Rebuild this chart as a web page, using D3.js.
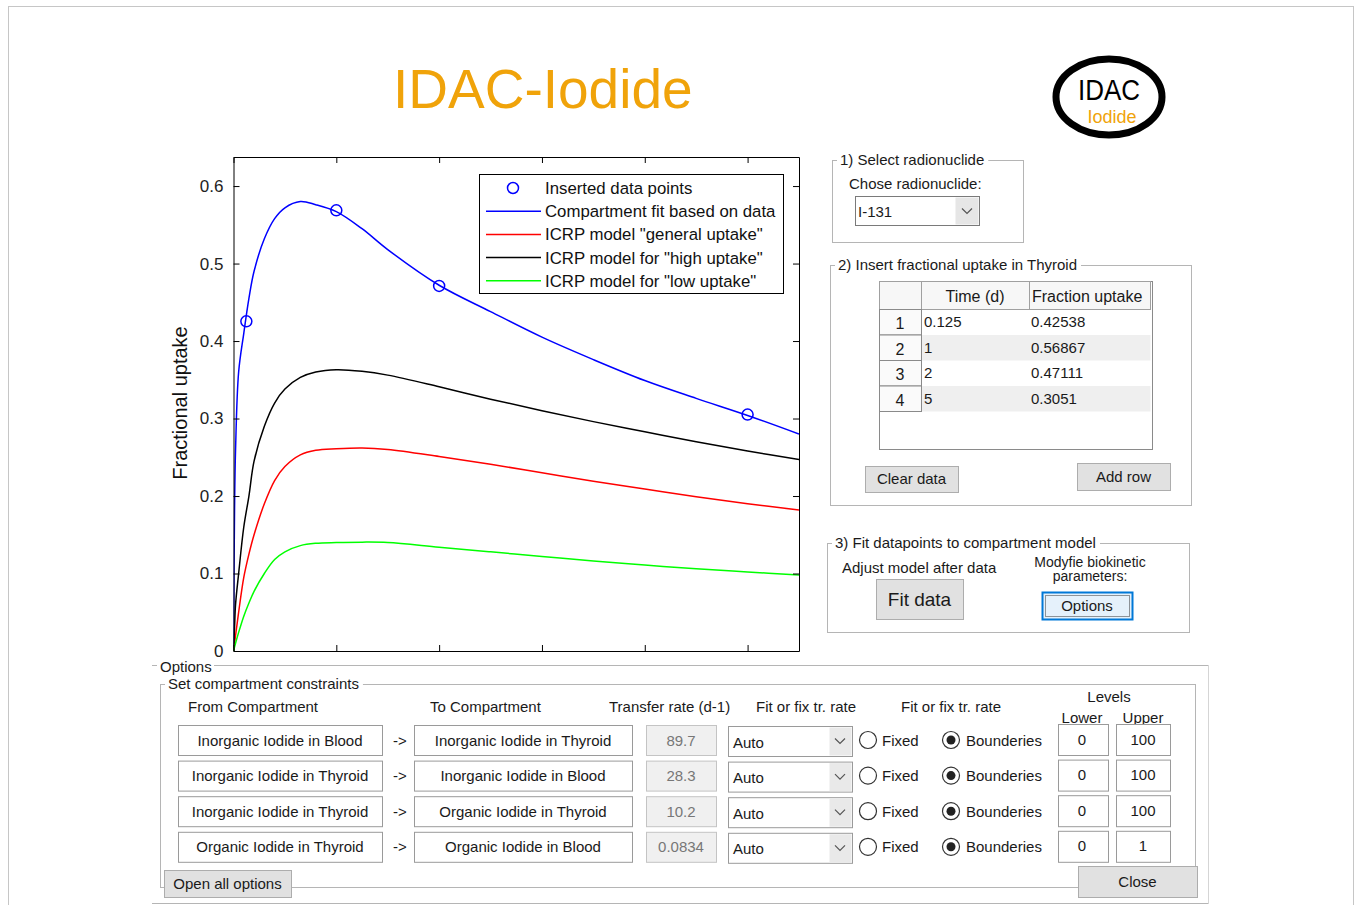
<!DOCTYPE html>
<html>
<head>
<meta charset="utf-8">
<script src="https://cdn.jsdelivr.net/npm/d3@7"></script>
<style>
body { margin: 0; background: #fff; }
svg { display: block; font-family: "Liberation Sans", Arial, sans-serif; }
</style>
</head>
<body>
<script>
let width = 1356
let height = 905

// curves: time (d) and fractional uptake
const times         = [0, 0.01, 0.02, 0.05, 0.1, 0.15, 0.2, 0.3, 0.4, 0.5, 0.65, 0.8, 1, 1.25, 1.5, 2, 2.5, 3, 3.5, 4, 4.5, 5, 5.5]
const fitCurve      = [0, 0.18, 0.26, 0.36, 0.41, 0.455, 0.49, 0.532, 0.558, 0.572, 0.58, 0.576, 0.567, 0.545, 0.518, 0.472, 0.438, 0.405, 0.376, 0.349, 0.326, 0.304, 0.28]
const generalCurve  = [0, 0.01, 0.02, 0.05, 0.095, 0.125, 0.15, 0.19, 0.22, 0.238, 0.253, 0.259, 0.261, 0.262, 0.26, 0.251, 0.241, 0.23, 0.219, 0.209, 0.199, 0.19, 0.182]
const highCurve     = [0, 0.03, 0.06, 0.1, 0.16, 0.2, 0.245, 0.29, 0.32, 0.338, 0.353, 0.36, 0.363, 0.361, 0.356, 0.341, 0.325, 0.31, 0.296, 0.283, 0.27, 0.258, 0.247]
const lowCurve      = [0, 0.005, 0.01, 0.024, 0.045, 0.062, 0.077, 0.1, 0.118, 0.128, 0.136, 0.139, 0.14, 0.1405, 0.14, 0.134, 0.128, 0.122, 0.116, 0.111, 0.106, 0.102, 0.098]

// inserted data points (also shown in the table)
const pointTimes  = [0.125, 1, 2, 5]
const pointUptake = [0.42538, 0.56867, 0.47111, 0.3051]

const yTicks = [0, 0.1, 0.2, 0.3, 0.4, 0.5, 0.6]
const xTicks = [0, 1, 2, 3, 4, 5]

const legendLabels = ['Inserted data points', 'Compartment fit based on data', 'ICRP model "general uptake"', 'ICRP model for "high uptake"', 'ICRP model for "low uptake"']
const legendColors = ['#0000ff', '#0000ff', '#ff0000', '#000000', '#00ff00']

// compartment constraints
const fromComp = ['Inorganic Iodide in Blood', 'Inorganic Iodide in Thyroid', 'Inorganic Iodide in Thyroid', 'Organic Iodide in Thyroid']
const toComp   = ['Inorganic Iodide in Thyroid', 'Inorganic Iodide in Blood', 'Organic Iodide in Thyroid', 'Organic Iodide in Blood']
const rates    = ['89.7', '28.3', '10.2', '0.0834']
const lowerLev = [0, 0, 0, 0]
const upperLev = [100, 100, 100, 1]

const svg = d3.select('body')
    .append('svg')
    .attr('width', width)
    .attr('height', height)

function box(x0, y0, w, h, fill, stroke, sw) {
    return svg.append('rect')
        .attr('x', x0 + 0.5).attr('y', y0 + 0.5)
        .attr('width', w).attr('height', h)
        .attr('fill', fill).attr('stroke', stroke)
        .attr('stroke-width', sw || 1)
}
function label(x0, y0, txt, size, anchor, color) {
    return svg.append('text')
        .attr('x', x0).attr('y', y0)
        .attr('font-size', size || 15)
        .attr('text-anchor', anchor || 'start')
        .attr('fill', color || '#1a1a1a')
        .text(txt)
}
function group(x0, y0, w, h, title) {
    box(x0, y0, w, h, 'none', '#b5b5b5')
    const gap = svg.append('rect').attr('fill', 'white')
    const t = label(x0 + 8, y0 + 5, title, 15)
    const len = t.node().getComputedTextLength()
    gap.attr('x', x0 + 5).attr('y', y0 - 8).attr('width', len + 7).attr('height', 16)
}
function button(x0, y0, w, h, txt, size) {
    box(x0, y0, w, h, '#e1e1e1', '#adadad')
    label(x0 + w / 2, y0 + h / 2 + (size || 15) * 0.36, txt, size || 15, 'middle')
}
function chevron(cx, cy) {
    svg.append('path')
        .attr('d', `M${cx - 5},${cy - 2.5}L${cx},${cy + 2.5}L${cx + 5},${cy - 2.5}`)
        .attr('fill', 'none').attr('stroke', '#555').attr('stroke-width', 1.2)
}

// title and logo
label(393, 108, 'IDAC-Iodide', 55, 'start', '#f0a30a')
svg.append('ellipse')
    .attr('cx', 1109).attr('cy', 97).attr('rx', 53).attr('ry', 38)
    .attr('fill', 'white').attr('stroke', 'black').attr('stroke-width', 7)
label(1109, 100, 'IDAC', 30, 'middle', '#000').attr('textLength', 62).attr('lengthAdjust', 'spacingAndGlyphs')
label(1112, 123, 'Iodide', 18, 'middle', '#f0a30a')

// ---- plot ----
const x = d3.scaleLinear().domain([0, 5.5]).range([233.5, 799])
const y = d3.scaleLinear().domain([0, 0.6375]).range([651, 157])

svg.append('clipPath').attr('id', 'plotclip')
    .append('rect').attr('x', 233.5).attr('y', 157).attr('width', 565.5).attr('height', 494)

const plot = svg.append('g').attr('clip-path', 'url(#plotclip)')
const line = d3.line().curve(d3.curveCatmullRom.alpha(0.5))
    .x(d => x(d[0])).y(d => y(d[1]))

const curves = [
    { vals: fitCurve, color: '#0000ff' },
    { vals: generalCurve, color: '#ff0000' },
    { vals: highCurve, color: '#000000' },
    { vals: lowCurve, color: '#00ff00' }
]
plot.selectAll('.curve')
    .data(curves)
    .enter()
    .append('path')
        .attr('class', 'curve')
        .attr('fill', 'none')
        .attr('stroke', d => d.color)
        .attr('stroke-width', 1.5)
        .attr('d', d => line(times.map((t, i) => [t, d.vals[i]])))

svg.selectAll('.pt')
    .data(pointTimes)
    .enter()
    .append('circle')
        .attr('class', 'pt')
        .attr('cx', d => x(d))
        .attr('cy', (d, i) => y(pointUptake[i]))
        .attr('r', 5.5)
        .attr('fill', 'none')
        .attr('stroke', '#0000ff')
        .attr('stroke-width', 1.5)

function styleAxis(g) {
    g.select('.domain').attr('stroke', '#000')
    g.selectAll('.tick line').attr('stroke', '#000')
    g.selectAll('text').attr('font-size', 17).attr('fill', '#222').attr('font-family', '"Liberation Sans", Arial, sans-serif')
}
svg.append('g').attr('transform', 'translate(233.5,0)')
    .call(d3.axisLeft(y).tickValues(yTicks).tickSizeInner(-6).tickSizeOuter(0).tickPadding(10).tickFormat(d3.format('')))
    .call(styleAxis)
svg.append('g').attr('transform', 'translate(799,0)')
    .call(d3.axisRight(y).tickValues(yTicks).tickSizeInner(-6).tickSizeOuter(0).tickFormat(''))
    .call(styleAxis)
svg.append('g').attr('transform', 'translate(0,157)')
    .call(d3.axisTop(x).tickValues(xTicks).tickSizeInner(-6).tickSizeOuter(0).tickFormat(''))
    .call(styleAxis)
svg.append('g').attr('transform', 'translate(0,651)')
    .call(d3.axisBottom(x).tickValues(xTicks).tickSizeInner(-6).tickSizeOuter(0).tickFormat(''))
    .call(styleAxis)

svg.append('text')
    .attr('transform', 'translate(187,403) rotate(-90)')
    .attr('text-anchor', 'middle')
    .attr('font-size', 20)
    .attr('fill', '#111')
    .text('Fractional uptake')

// legend
box(479, 174, 304, 119, 'white', '#000')
legendLabels.forEach(function(txt, i) {
    const ly = 188 + i * 23.2
    if (i === 0) {
        svg.append('circle').attr('cx', 513).attr('cy', ly).attr('r', 5.5)
            .attr('fill', 'none').attr('stroke', legendColors[i]).attr('stroke-width', 1.5)
    } else {
        svg.append('line').attr('x1', 486).attr('x2', 541).attr('y1', ly).attr('y2', ly)
            .attr('stroke', legendColors[i]).attr('stroke-width', 1.5)
    }
    label(545, ly + 6, txt, 16.8, 'start', '#111')
})

// ---- right panels ----
group(832, 160, 191, 82, '1) Select radionuclide')
label(849, 189, 'Chose radionuclide:')
box(855, 196, 124, 29, 'white', '#7a7a7a')
box(955, 197, 23, 27, '#e6e6e6', 'none')
chevron(967, 211)
label(858, 217, 'I-131')

group(830, 265, 361, 240, '2) Insert fractional uptake in Thyroid')
box(879, 281, 273, 168, 'white', '#8a8a8a')
// header row
box(879, 281, 42, 28, '#f7f7f7', '#a0a0a0')
box(921, 281, 108, 28, '#f7f7f7', '#a0a0a0')
box(1029, 281, 121, 28, '#f7f7f7', '#a0a0a0')
label(975, 302, 'Time (d)', 16, 'middle')
label(1032, 302, 'Fraction uptake', 16, 'start')
pointTimes.forEach(function(t, i) {
    const ry = 309 + i * 25.5
    if (i % 2 === 1) box(921, ry, 229, 25.5, '#efefef', 'none')
    box(879, ry, 42, 25.5, '#fafafa', '#8a8a8a')
    label(900, ry + 20, String(i + 1), 16, 'middle')
    label(924, ry + 18, String(t), 15)
    label(1031, ry + 18, String(pointUptake[i]), 15)
})
button(865, 466, 93, 26, 'Clear data')
button(1077, 463, 93, 27, 'Add row')

group(827, 543, 362, 89, '3) Fit datapoints to compartment model')
label(842, 573, 'Adjust model after data')
button(876, 579, 87, 40, 'Fit data', 19)
label(1090, 567, 'Modyfie biokinetic', 14, 'middle')
label(1090, 581, 'parameters:', 14, 'middle')
box(1042, 592, 90, 27, '#e5f1fb', '#0078d7', 2)
box(1045, 595, 84, 21, 'none', '#333', 1).attr('stroke-dasharray', '1,1')
label(1087, 611, 'Options', 15, 'middle')

// ---- options panel (covers bottom of the plot) ----
svg.append('rect').attr('x', 0).attr('y', 657).attr('width', width).attr('height', height - 657).attr('fill', 'white')

svg.append('line').attr('x1', 152).attr('x2', 1208).attr('y1', 665.5).attr('y2', 665.5).attr('stroke', '#b5b5b5')
svg.append('line').attr('x1', 152).attr('x2', 1208).attr('y1', 903.5).attr('y2', 903.5).attr('stroke', '#b5b5b5')
svg.append('line').attr('x1', 1208.5).attr('x2', 1208.5).attr('y1', 665).attr('y2', 904).attr('stroke', '#d5d5d5')
svg.append('rect').attr('x', 157).attr('y', 658).attr('width', 57).attr('height', 16).attr('fill', 'white')
label(160, 672, 'Options')

group(160, 684, 1035, 203, 'Set compartment constraints')

label(188, 712, 'From Compartment')
label(430, 712, 'To Compartment')
label(609, 712, 'Transfer rate (d-1)')
label(756, 712, 'Fit or fix tr. rate')
label(901, 712, 'Fit or fix tr. rate')
label(1109, 702, 'Levels', 15, 'middle')
label(1082, 723, 'Lower', 15, 'middle')
label(1143, 723, 'Upper', 15, 'middle')

fromComp.forEach(function(f, i) {
    const ry = 725 + i * 35.6
    const by = ry + 20.5
    box(178, ry, 204, 30, 'white', '#9a9a9a')
    label(280, by, f, 15, 'middle')
    label(400, by, '->', 15, 'middle')
    box(414, ry, 218, 30, 'white', '#9a9a9a')
    label(523, by, toComp[i], 15, 'middle')
    box(646, ry, 70, 30, '#f0f0f0', '#c4c4c4')
    label(681, by, rates[i], 15, 'middle', '#777')
    box(728, ry + 1, 124, 30, 'white', '#9a9a9a')
    box(829, ry + 2, 22, 28, '#e9e9e9', 'none')
    chevron(840, ry + 16)
    label(733, by + 2, 'Auto')
    svg.append('circle').attr('cx', 868).attr('cy', ry + 15).attr('r', 8.5)
        .attr('fill', 'white').attr('stroke', '#333').attr('stroke-width', 1.2)
    label(882, by, 'Fixed')
    svg.append('circle').attr('cx', 951).attr('cy', ry + 15).attr('r', 8.5)
        .attr('fill', 'white').attr('stroke', '#333').attr('stroke-width', 1.2)
    svg.append('circle').attr('cx', 951).attr('cy', ry + 15).attr('r', 4.5).attr('fill', '#222')
    label(966, by, 'Bounderies')
    box(1058, ry - 1, 50, 31, 'white', '#9a9a9a')
    label(1082, by - 1, String(lowerLev[i]), 15, 'middle')
    box(1116, ry - 1, 54, 31, 'white', '#9a9a9a')
    label(1143, by - 1, String(upperLev[i]), 15, 'middle')
})

button(164, 870, 127, 27, 'Open all options')
button(1078, 866, 119, 31, 'Close')

// outer frame of the figure
box(8, 6, 1345, 905, 'none', '#c6c6c6')
</script>
</body>
</html>
